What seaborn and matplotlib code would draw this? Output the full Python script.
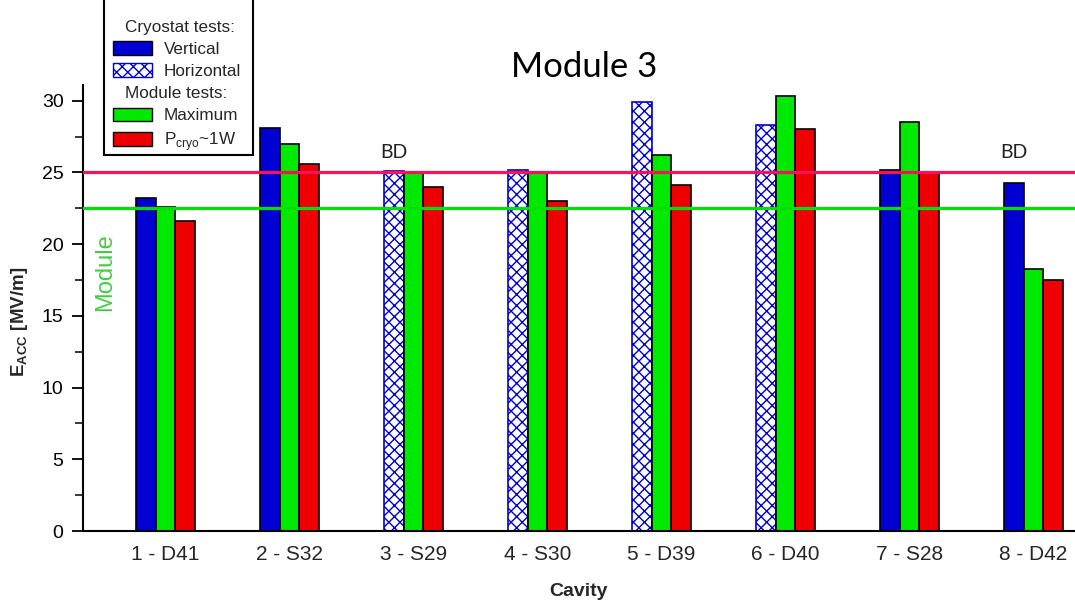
import matplotlib
matplotlib.use("Agg")
import matplotlib.pyplot as plt
import numpy as np
import pandas as pd
import seaborn as sns
from matplotlib.patches import Patch, Rectangle
from matplotlib.ticker import MultipleLocator

# ---- data -----------------------------------------------------------------
cavities = ["1 - D41", "2 - S32", "3 - S29", "4 - S30",
            "5 - D39", "6 - D40", "7 - S28", "8 - D42"]
cryostat_eacc = [23.2, 28.1, 25.1, 25.2, 29.9, 28.3, 25.2, 24.3]
cryostat_horizontal = [False, False, True, True, True, True, False, False]
module_maximum = [22.6, 27.0, 25.0, 25.0, 26.2, 30.3, 28.5, 18.3]
module_pcryo_1w = [21.6, 25.6, 24.0, 23.0, 24.1, 28.0, 25.0, 17.5]
breakdown_cavities = ["3 - S29", "8 - D42"]
module_spec = 22.5
cavity_spec = 25.0

series_order = ["Cryostat", "Maximum", "Pcryo"]

# ---- style ----------------------------------------------------------------
sns.set_theme(style="white")
plt.rcParams["font.family"] = ["Liberation Sans", "DejaVu Sans"]
plt.rcParams["mathtext.fontset"] = "custom"
plt.rcParams["mathtext.rm"] = "Liberation Sans"
plt.rcParams["mathtext.bf"] = "Liberation Sans:bold"

BLUE = "#0000D2"
GREEN = "#00EA00"
RED = "#EE0000"
LINE_RED = "#F5145A"
LINE_GREEN = "#00E000"
HATCH = "xxx"

df = pd.DataFrame({
    "cavity": cavities * 3,
    "series": np.repeat(series_order, len(cavities)),
    "eacc": cryostat_eacc + module_maximum + module_pcryo_1w,
})

W, H = 1075, 601
fig = plt.figure(figsize=(W / 100, H / 100), dpi=100)
ax = fig.add_axes([83 / W, (H - 531) / H, 1 - 83 / W, (531 - 85) / H])

sns.barplot(data=df, x="cavity", y="eacc", hue="series",
            order=cavities, hue_order=series_order,
            palette=[BLUE, GREEN, RED], saturation=1,
            width=0.47, dodge=True, edgecolor="black", linewidth=1.2,
            legend=False, ax=ax)

# cryostat bars measured in horizontal orientation are cross-hatched
for bar, horiz in zip(ax.containers[0], cryostat_horizontal):
    if horiz:
        bar.set_facecolor("white")
        bar.set_edgecolor(BLUE)
        bar.set_hatch(HATCH)

# specification lines
ax.axhline(cavity_spec, color=LINE_RED, lw=2.3, zorder=4)
ax.axhline(module_spec, color=LINE_GREEN, lw=2.3, zorder=4)

# breakdown markers
for c in breakdown_cavities:
    ax.text(cavities.index(c) - 0.16, 26.4, "BD", ha="center", va="center",
            fontsize=14, family=["Lato", "DejaVu Sans"], color="#222222")

ax.set_xlim(-0.665, 7.335)
ax.set_ylim(0, 31.1)
ax.yaxis.set_major_locator(MultipleLocator(5))
ax.yaxis.set_minor_locator(MultipleLocator(2.5))
ax.tick_params(axis="y", which="major", direction="out", length=8, width=1.3,
               left=True, labelsize=14, colors="black", pad=6)
ax.tick_params(axis="y", which="minor", direction="out", length=6, width=1.3,
               left=True)
ax.tick_params(axis="x", length=0, pad=10, labelsize=15)
for s in ["top", "right"]:
    ax.spines[s].set_visible(False)
for s in ["left", "bottom"]:
    ax.spines[s].set_color("black")
    ax.spines[s].set_linewidth(1.5)

ax.set_xlabel("Cavity", fontsize=14, fontweight="bold", labelpad=14)
ax.set_ylabel(r"$\mathbf{E_{ACC}}$ [MV/m]", fontsize=13.5, fontweight="bold")
ax.yaxis.set_label_coords(-0.053, 0.469)

fig.text(584 / W, 1 - 67 / H, "Module 3", ha="center", va="center",
         fontsize=25, family=["Lato", "DejaVu Sans"], color="black")
fig.text(105 / W, 1 - 272 / H, "Module", rotation=90, ha="center",
         va="center", fontsize=17, color="#44CC44")

# legend (frame drawn separately so it runs off the top edge)
invisible = Patch(facecolor="none", edgecolor="none")
handles = [
    invisible,
    Patch(facecolor=BLUE, edgecolor="black"),
    Patch(facecolor="white", edgecolor=BLUE, hatch=HATCH),
    invisible,
    Patch(facecolor=GREEN, edgecolor="black"),
    Patch(facecolor=RED, edgecolor="black"),
]
headers = ["Cryostat tests:", "Module tests:"]
labels = [headers[0], "Vertical", "Horizontal", headers[1], "Maximum",
          r"P$_{\mathrm{cryo}}$~1W"]
leg = fig.legend(handles, labels, loc="upper left",
                 bbox_to_anchor=(106 / W, 0.980), bbox_transform=fig.transFigure,
                 frameon=False, borderaxespad=0, fontsize=12.3,
                 handlelength=2.3, handleheight=0.85, labelspacing=0.38,
                 handletextpad=0.7, borderpad=0.4)
leg.set_zorder(6)
for col in leg._legend_handle_box.get_children():
    for row in col.get_children():
        da, ta = row.get_children()
        if ta.get_text() in headers:
            da.set_width(0)

fig.canvas.draw()
bb = leg.get_window_extent().transformed(fig.transFigure.inverted())
frame_left = 104 / W
frame_bottom = 1 - 155 / H
frame = Rectangle((frame_left, frame_bottom), bb.x1 - frame_left + 0.004,
                  1.05 - frame_bottom, transform=fig.transFigure,
                  facecolor="white", edgecolor="black", lw=1.5, zorder=5.5,
                  clip_on=False)
fig.add_artist(frame)

fig.savefig("out.png", dpi=100)
